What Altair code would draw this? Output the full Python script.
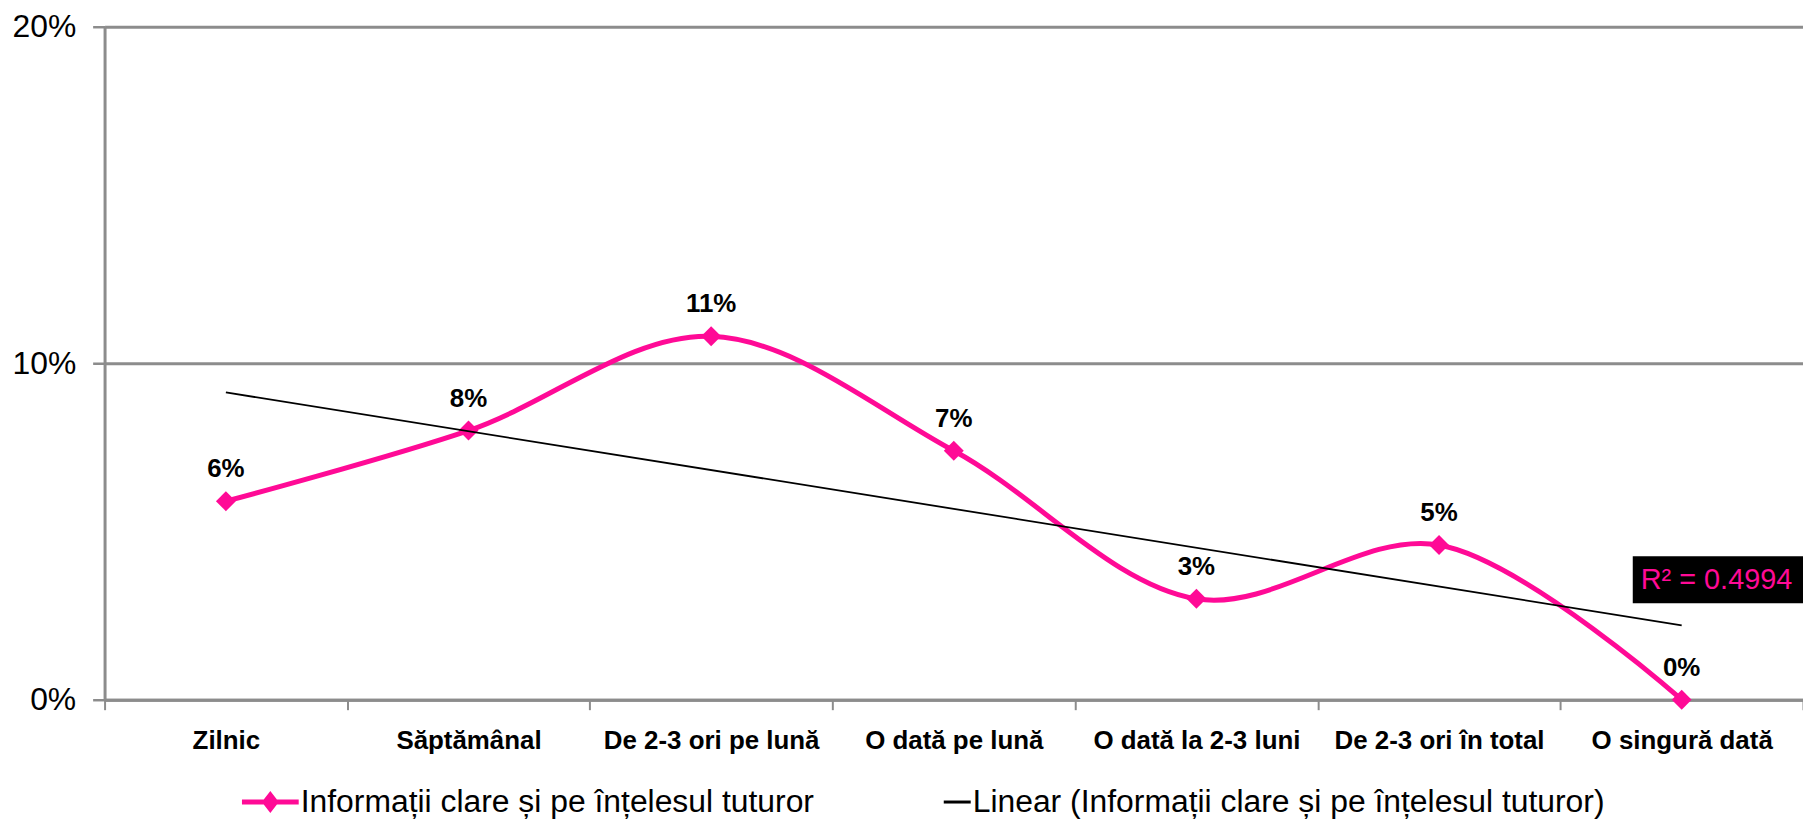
import json
import altair as alt
import pandas as pd

CATEGORIES = ["Zilnic", "Săptămânal", "De 2-3 ori pe lună", "O dată pe lună",
              "O dată la 2-3 luni", "De 2-3 ori în total", "O singură dată"]
VALUES = [0.059, 0.080, 0.108, 0.074, 0.030, 0.046, 0.000]
SERIES = ["Informații clare și pe înțelesul tuturor",
          "Linear (Informații clare și pe înțelesul tuturor)"]
R2 = 0.4994
Y_TICKS = [0, 0.1, 0.2]

PINK = "#FF0A96"
GRAY = "#8C8C8C"
FONT = "Liberation Sans"
PLOT_W = 1706
BAND = PLOT_W / len(CATEGORIES)

df = pd.DataFrame({"idx": list(range(1, len(CATEGORIES) + 1)),
                   "category": CATEGORIES, "value": VALUES})

x_ticks = [i + 0.5 for i in range(len(CATEGORIES) + 1)]
label_expr = ("datum.value < %d ? %s[floor(datum.value)] : ''"
              % (len(CATEGORIES), json.dumps(CATEGORIES, ensure_ascii=False)))

x_enc = alt.X("idx:Q",
              scale=alt.Scale(domain=[0.5, len(CATEGORIES) + 0.5], nice=False, zero=False),
              axis=alt.Axis(values=x_ticks, labelExpr=label_expr, title=None, grid=False,
                            labelOffset=BAND / 2, labelAlign="center", labelOverlap=False,
                            labelBound=False, labelFlush=False, labelLimit=500,
                            labelFont=FONT, labelFontSize=26, labelFontWeight="bold",
                            labelColor="black", labelPadding=18,
                            tickSize=10, tickWidth=2, tickColor=GRAY,
                            domainColor=GRAY, domainWidth=3))
y_enc = alt.Y("value:Q",
              scale=alt.Scale(domain=[0, 0.2], nice=False),
              axis=alt.Axis(values=Y_TICKS, format=".0%", title=None,
                            labelFont=FONT, labelFontSize=32, labelColor="black",
                            labelPadding=17, tickSize=12, tickWidth=2.5, tickColor=GRAY,
                            grid=True, gridColor=GRAY, gridWidth=3,
                            domainColor=GRAY, domainWidth=3))

base = alt.Chart(df)

line = base.mark_line(color=PINK, strokeWidth=5, interpolate="catmull-rom").encode(x=x_enc, y=y_enc)
points = base.mark_point(shape="diamond", filled=True, color=PINK, size=400, opacity=1).encode(x="idx:Q", y="value:Q")
trend = base.transform_regression("idx", "value", method="linear",
                                  extent=[1, len(CATEGORIES)]).mark_line(
    color="black", strokeWidth=1.8).encode(x="idx:Q", y="value:Q")
labels = base.mark_text(dy=-24, baseline="alphabetic", align="center", font=FONT,
                        fontSize=26, fontWeight="bold", color="black").encode(
    x="idx:Q", y="value:Q", text=alt.Text("value:Q", format=".0%"))

r2_df = pd.DataFrame({"r2": [R2]})
r2_box = alt.Chart(r2_df).mark_rect(color="black").encode(
    x=alt.value(1535), x2=alt.value(1760), y=alt.value(532), y2=alt.value(579))
r2_text = alt.Chart(r2_df).transform_calculate(
    label="'R² = ' + format(datum.r2, '.4f')").mark_text(
    align="left", baseline="middle", font=FONT, fontSize=29, color=PINK).encode(
    x=alt.value(1543), y=alt.value(556), text="label:N")

PATH_A = "M-1,-0.088L1,-0.088L1,0.088L-1,0.088Z M0,-0.386L0.3,0L0,0.386L-0.3,0Z"
PATH_B = "M0.05,-0.053L1,-0.053L1,0.053L0.05,0.053Z"
legend_kw = dict(title=None, orient="none", legendX=138, legendY=750, direction="horizontal",
                 labelFont=FONT, labelFontSize=32, labelColor="black", labelLimit=1000,
                 symbolSize=3249, symbolStrokeWidth=0, labelOffset=2, columnPadding=100,
                 padding=0, symbolOpacity=1)
leg_df = pd.DataFrame({"series": SERIES})
legend_layer = alt.Chart(leg_df).mark_point(filled=True, clip=True, size=3249, opacity=1).encode(
    x=alt.value(-3000), y=alt.value(-3000),
    color=alt.Color("series:N", scale=alt.Scale(domain=SERIES, range=[PINK, "black"]),
                    legend=alt.Legend(**legend_kw)),
    shape=alt.Shape("series:N", scale=alt.Scale(domain=SERIES, range=[PATH_A, PATH_B]),
                    legend=alt.Legend(**legend_kw)))

chart = alt.layer(line, points, trend, labels, r2_box, r2_text, legend_layer).properties(
    width=PLOT_W, height=676,
    padding={"left": 97, "top": 17, "right": 0, "bottom": 121},
    autosize=alt.AutoSizeParams(type="none"),
).configure_view(stroke=None).configure(background="white")

chart.save("out.html", embed_options={"renderer": "svg", "actions": False})
